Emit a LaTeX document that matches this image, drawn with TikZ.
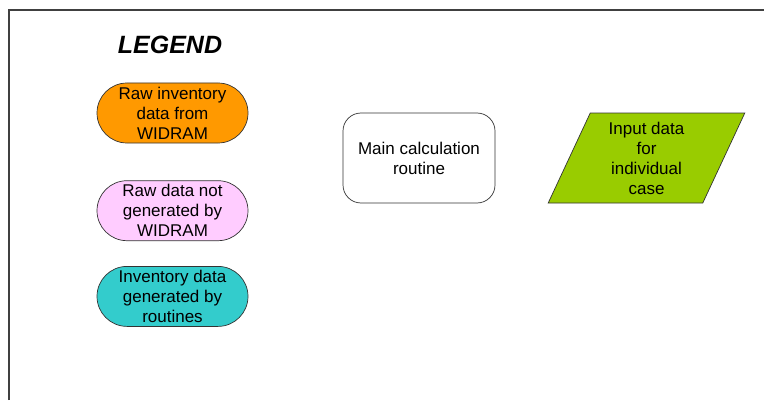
\documentclass[tikz,border=0pt]{standalone}
\usepackage{fontspec}
\setmainfont{Liberation Sans}
\usetikzlibrary{positioning, shapes.geometric}

\definecolor{rawinv}{HTML}{FF9900}
\definecolor{rawnot}{HTML}{FFCCFF}
\definecolor{geninv}{HTML}{33CCCC}
\definecolor{inpcase}{HTML}{99CC00}

\tikzset{
  txt/.style={font=\fontsize{17pt}{20pt}\selectfont, align=center},
  datapill/.style={txt, draw=black!80, line width=0.7pt, minimum width=151pt,
    minimum height=60pt, inner sep=0pt, rounded corners=30pt},
  routine/.style={txt, draw=black!80, line width=0.7pt, minimum width=152pt,
    minimum height=90pt, rounded corners=18pt},
  inputcase/.style={txt, draw=black!80, line width=0.7pt, fill=inpcase,
    trapezium, trapezium left angle=68.7, trapezium right angle=111.3,
    trapezium stretches=true, minimum width=197pt, minimum height=90pt, inner sep=0pt}
}

\begin{document}
\begin{tikzpicture}[x=1pt,y=1pt,node distance=37pt]
      \useasboundingbox (0,0) rectangle (764,400);
      \draw[black!75, line width=1.2pt] (9,0) -- (9,390) -- (764,390);
      \node (legend) at (170,355.5) {\fontsize{25pt}{28pt}\selectfont\bfseries\itshape LEGEND};
      \node[datapill,fill=rawinv] (rawinv) at (172.5,287) {Raw inventory\\data from\\WIDRAM};
      \node[datapill,fill=rawnot,below=of rawinv] (rawnot) {Raw data not\\generated by\\WIDRAM};
      \node[datapill,fill=geninv,below=25pt of rawnot] (geninv) {Inventory data\\generated by\\routines};
      \node[routine] (main) at (419,242) {Main calculation\\routine};
      \node[inputcase] (input) at (646.5,242) {Input data\\for\\individual\\case};
    \end{tikzpicture}
\end{document}
